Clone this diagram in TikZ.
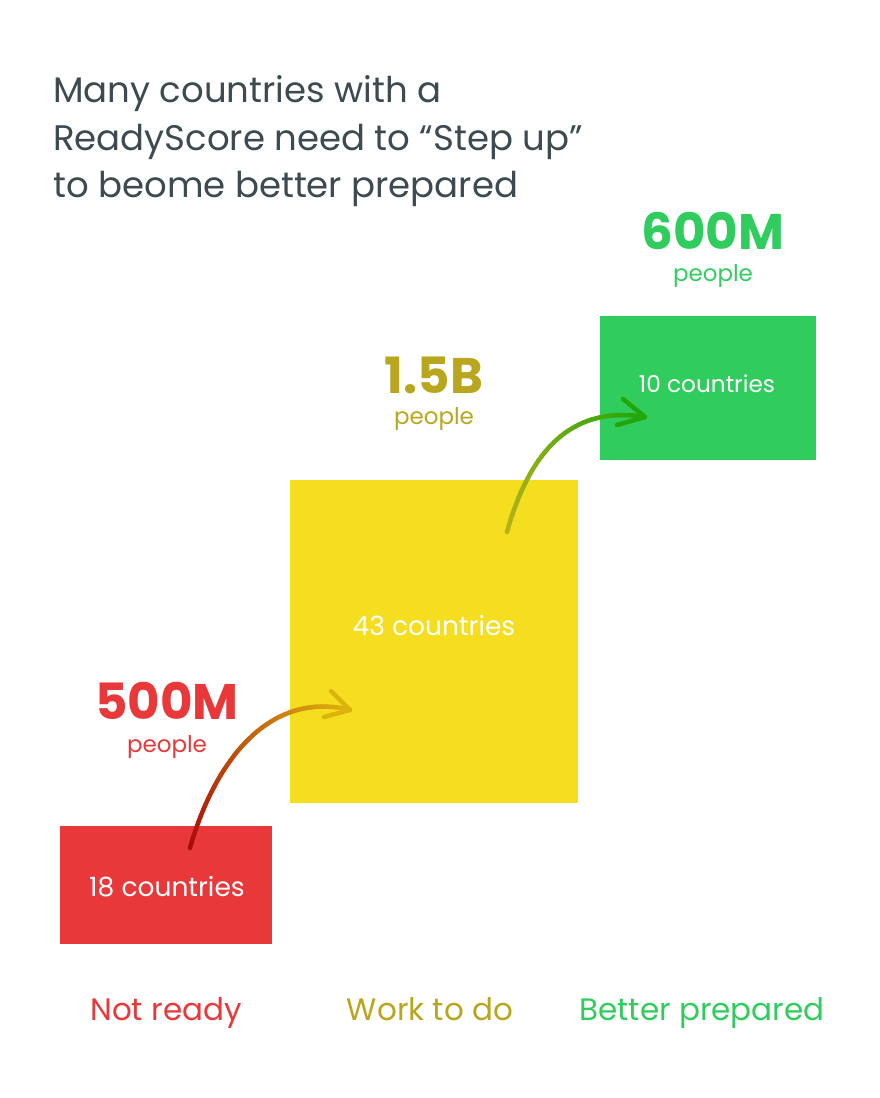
\documentclass[tikz,border=0pt]{standalone}
\usepackage{fontspec}
\setmainfont{Poppins}
\usetikzlibrary{calc}
\definecolor{cred}{HTML}{E8383A}
\definecolor{cyellow}{HTML}{F5DD1F}
\definecolor{cgreen}{HTML}{30CD5E}
\definecolor{colive}{HTML}{B8A71E}
\definecolor{ctitle}{HTML}{3D4A50}
\definecolor{aonestart}{HTML}{A80A0A}
\definecolor{aoneend}{HTML}{DDB40E}
\definecolor{atwostart}{HTML}{B9B21A}
\definecolor{atwoend}{HTML}{22A60A}
\newcommand\bzpt[5]{($ {(1-#1)^3}*(#2) + {3*(1-#1)^2*#1}*(#3) + {3*(1-#1)*#1^2}*(#4) + {#1^3}*(#5) $)}
\tikzset{
  box/.style={draw=none, inner sep=0pt},
  boxtext/.style={anchor=base, text=white, inner sep=0pt},
  bignum/.style={anchor=base, inner sep=0pt, font=\fontsize{50}{50}\selectfont\bfseries},
  peopletext/.style={anchor=base, inner sep=0pt, font=\fontsize{23}{23}\selectfont},
  cat/.style={anchor=base, inner sep=0pt, font=\fontsize{31}{31}\selectfont},
  titleline/.style={anchor=base west, inner sep=0pt, text=ctitle, font=\fontsize{35.5}{35.5}\selectfont},
  arrowhead/.style={line width=4.5pt, line cap=round, line join=round}
}
\begin{document}
\begin{tikzpicture}[x=1pt, y=-1pt]
\useasboundingbox[fill=white] (0,0) rectangle (880,1098);
% title
\node[titleline] (t1) at (53,102) {Many countries with a};
\node[titleline] (t2) at (53,150) {ReadyScore need to “Step up”};
\node[titleline] (t3) at (53,197) {to beome better prepared};
% boxes
\path[fill=cred] (60,826) rectangle (272,944);
\node[box, minimum width=212pt, minimum height=118pt] (redbox) at (166,885) {};
\path[fill=cyellow] (290,480) rectangle (578,803);
\node[box, minimum width=288pt, minimum height=323pt] (yelbox) at (434,641.5) {};
\path[fill=cgreen] (600,316) rectangle (816,460);
\node[box, minimum width=216pt, minimum height=144pt] (grnbox) at (708,388) {};
% box texts
\node[boxtext, font=\fontsize{26.5}{26.5}\selectfont] (redtxt) at (167,896) {18 countries};
\node[boxtext, font=\fontsize{26.5}{26.5}\selectfont] (yeltxt) at (434,635) {43 countries};
\node[boxtext, font=\fontsize{23.2}{23.2}\selectfont] (grntxt) at (707,392) {10 countries};
% numbers
\node[bignum, text=cred] (n1) at (167,719) {500M};
\node[peopletext, text=cred] (p1) at (167,752) {people};
\node[bignum, text=colive] (n2) at (434,393) {1.5B};
\node[peopletext, text=colive] (p2) at (434,424) {people};
\node[bignum, text=cgreen] (n3) at (713,249) {600M};
\node[peopletext, text=cgreen] (p3) at (713,281) {people};
% category labels
\node[cat, text=cred] (c1) at (166,1020) {Not ready};
\node[cat, text=colive] (c2) at (430,1020) {Work to do};
\node[cat, text=cgreen] (c3) at (702,1020) {Better prepared};
% arrow 1
\coordinate (a1s) at (190,848);
\coordinate (a1p) at (215,760);
\coordinate (a1q) at (270,690);
\coordinate (a1e) at (350,710);
\coordinate (a1u) at (331,691);
\coordinate (a1l) at (324,717);
\foreach \i in {1,...,40}{
  \pgfmathsetmacro\ta{(\i-1)/40}
  \pgfmathsetmacro\tb{\i/40}
  \pgfmathsetmacro\pct{100*(\i-0.5)/40}
  \draw[line width=4.5pt, line cap=round, draw=aoneend!\pct!aonestart]
    \bzpt{\ta}{a1s}{a1p}{a1q}{a1e} -- \bzpt{\tb}{a1s}{a1p}{a1q}{a1e};
}
\draw[arrowhead, draw=aoneend] (a1u) -- (a1e) -- (a1l);
% arrow 2
\coordinate (a2s) at (507,532);
\coordinate (a2p) at (530,450);
\coordinate (a2q) at (572,405);
\coordinate (a2e) at (645,417);
\coordinate (a2u) at (623,399);
\coordinate (a2l) at (617,425);
\foreach \i in {1,...,40}{
  \pgfmathsetmacro\ta{(\i-1)/40}
  \pgfmathsetmacro\tb{\i/40}
  \pgfmathsetmacro\pct{100*(\i-0.5)/40}
  \draw[line width=4.5pt, line cap=round, draw=atwoend!\pct!atwostart]
    \bzpt{\ta}{a2s}{a2p}{a2q}{a2e} -- \bzpt{\tb}{a2s}{a2p}{a2q}{a2e};
}
\draw[arrowhead, draw=atwoend] (a2u) -- (a2e) -- (a2l);
\end{tikzpicture}
\end{document}
